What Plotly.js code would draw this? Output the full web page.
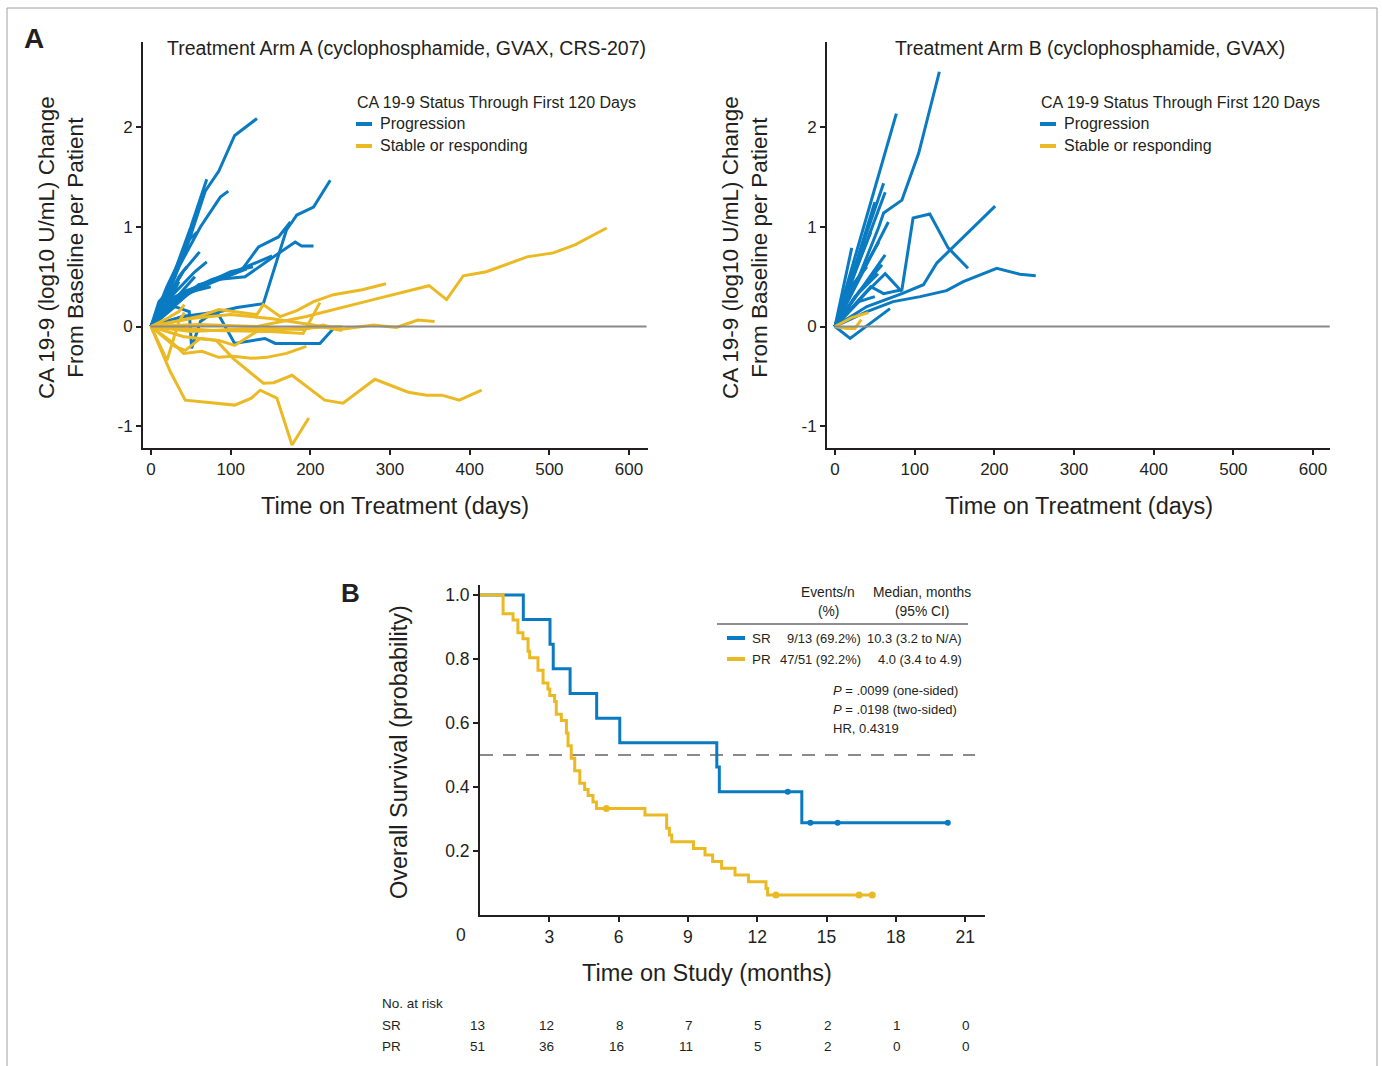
<!DOCTYPE html>
<html><head><meta charset="utf-8">
<script src="https://cdn.plot.ly/plotly-3.0.1.min.js"></script>
<style>html,body{margin:0;padding:0;background:#fff}#chart{width:1382px;height:1066px}</style>
</head><body><div id="chart"></div>
<script>
// ---------------- DATA ----------------
// Panel A, Arm A: progression (blue) patients: days and log10 change
const armA_prog_days = [
  [0,20,45,68,85,105,133],
  [0,25,50,70],
  [0,35,62,87,97],
  [0,40,87,108,141,170,177,183,204,225],
  [0,40,84,105,143,156,212,229],
  [0,30,76,114,135,160,175],
  [0,35,80,118,152,181,189,204],
  [0,40,90,125,152],
  [0,40,61],
  [0,30,42],
  [0,25,40],
  [0,20,35],
  [0,15,28],
  [0,45,55],
  [0,30,48,51,62,80],
  [0,20,38,52],
  [0,35,60,75],
  [0,25,55,70],
  [0,30,60,100,128],
  [0,40,70,100,120],
  [0,20,50,75],
  [0,15,35,45],
  [0,25,45,58],
  [0,10,22]
];
const armA_prog_vals = [
  [0,0.30,0.80,1.36,1.56,1.92,2.09],
  [0,0.45,1.00,1.48],
  [0,0.60,1.00,1.30,1.36],
  [0,0.10,0.15,0.19,0.23,0.97,1.05,1.12,1.20,1.47],
  [0,0.10,0.13,-0.17,-0.12,-0.17,-0.17,-0.02],
  [0,0.30,0.47,0.57,0.80,0.90,1.05],
  [0,0.30,0.47,0.50,0.69,0.85,0.81,0.81],
  [0,0.30,0.50,0.62,0.71],
  [0,0.55,0.75],
  [0,0.50,0.80],
  [0,0.35,0.55],
  [0,0.20,0.45],
  [0,0.25,0.35],
  [0,0.40,0.50],
  [0,0.20,0.15,-0.22,0.05,0.15],
  [0,0.40,0.70,1.00],
  [0,0.25,0.42,0.45],
  [0,0.30,0.55,0.65],
  [0,0.25,0.40,0.55,0.60],
  [0,0.35,0.42,0.52,0.58],
  [0,0.15,0.35,0.40],
  [0,0.20,0.50,0.60],
  [0,0.45,0.85,0.95],
  [0,0.25,0.35]
];
// Arm A: stable or responding (yellow)
const armA_stab_days = [
  [0,60,133,195,279,349,371,392,421,446,472,505,532,572],
  [0,60,85,133,141,162,183,204,229,265,295],
  [0,50,100,150,191,216,237,279,308,335,356],
  [0,80,150,191,212],
  [0,25,41,64,85,103,126,145,170,195],
  [0,24,43,76,105,126,137,158,177,198],
  [0,40,82,103,141,154,177,218,241,281,323,346,365,387,415],
  [0,30,43,62,85,105,133,180,240],
  [0,20,35,42],
  [0,20,35,42],
  [0,50,100,150,200,240]
];
const armA_stab_vals = [
  [0,0.02,0.00,0.10,0.27,0.41,0.27,0.51,0.55,0.62,0.70,0.74,0.82,0.99],
  [0,0.10,0.17,0.12,0.22,0.10,0.16,0.25,0.32,0.37,0.43],
  [0,-0.05,-0.03,-0.02,-0.03,0.015,-0.03,0.015,-0.01,0.065,0.05],
  [0,-0.04,-0.05,-0.07,0.24],
  [0,-0.15,-0.27,-0.25,-0.31,-0.30,-0.32,-0.31,-0.27,-0.20],
  [0,-0.45,-0.74,-0.77,-0.79,-0.72,-0.64,-0.72,-1.19,-0.92],
  [0,-0.10,-0.14,-0.32,-0.57,-0.565,-0.49,-0.74,-0.77,-0.53,-0.66,-0.69,-0.69,-0.74,-0.64],
  [0,-0.20,-0.24,-0.12,-0.14,-0.19,-0.05,-0.02,0.00],
  [0,0.08,0.15,0.22],
  [0,-0.34,0.05,0.14],
  [0,0.08,0.12,0.08,0.02,-0.04]
];
// Arm B: progression (blue)
const armB_prog_days = [
  [0,30,55,61,84,105,131],
  [0,40,77],
  [0,45,61,84,98,119,142,167],
  [0,40,84,111,128,201],
  [0,40,73,107,140,161,203,232,252],
  [0,19,69],
  [0,21],
  [0,30,61],
  [0,35,63],
  [0,35,67],
  [0,40,63],
  [0,30,59],
  [0,25,54],
  [0,20,40],
  [0,15,30],
  [0,40,63,84],
  [0,30,50],
  [0,25,50],
  [0,20,45],
  [0,30,55]
];
const armB_prog_vals = [
  [0,0.50,1.00,1.14,1.27,1.74,2.56],
  [0,1.10,2.14],
  [0,0.40,0.33,0.37,1.09,1.13,0.79,0.585],
  [0,0.20,0.33,0.42,0.64,1.21],
  [0,0.15,0.25,0.30,0.36,0.45,0.585,0.525,0.51],
  [0,-0.12,0.18],
  [0,0.79],
  [0,0.70,1.44],
  [0,0.75,1.35],
  [0,0.55,1.05],
  [0,0.45,0.72],
  [0,0.35,0.62],
  [0,0.30,0.53],
  [0,0.40,0.60],
  [0,0.30,0.50],
  [0,0.35,0.53,0.35],
  [0,0.25,0.30],
  [0,0.60,1.25],
  [0,0.45,0.95],
  [0,0.50,0.85]
];
// Arm B: stable or responding (yellow)
const armB_stab_days = [[0,21,42],[0,15,25,33]];
const armB_stab_vals = [[0,0.09,0.14],[0,-0.02,-0.02,0.07]];
const xTicksA = [0,100,200,300,400,500,600];
const yTicksA = [-1,0,1,2];
const yTickTextA = ['-1','0','1','2'];

// Panel B: Kaplan-Meier step curves (months, survival)
const sr_time = [0,1.875,3.03,3.17,3.9,5.05,6.05,10.25,10.36,13.93,20.25];
const sr_surv = [1,0.923,0.846,0.769,0.692,0.615,0.538,0.462,0.385,0.288,0.288];
const sr_cens_time = [13.32,14.3,15.48,20.25];
const sr_cens_surv = [0.385,0.288,0.288,0.288];
const pr_time = [0,1.0,1.43,1.64,1.86,2.08,2.15,2.51,2.73,2.94,3.02,3.23,3.30,3.52,3.74,3.81,3.95,4.10,4.32,4.53,4.68,4.89,5.04,7.14,8.08,8.20,8.30,9.24,9.74,10.07,10.46,11.04,11.62,12.38,12.45,16.98];
const pr_surv = [1,0.941,0.922,0.882,0.863,0.824,0.804,0.765,0.725,0.706,0.686,0.667,0.627,0.608,0.569,0.529,0.490,0.451,0.412,0.392,0.373,0.353,0.333,0.3125,0.271,0.25,0.229,0.208,0.1875,0.167,0.146,0.125,0.104,0.083,0.0625,0.0625];
const pr_cens_time = [5.47,12.81,16.41,16.98];
const pr_cens_surv = [0.333,0.0625,0.0625,0.0625];
const xTicksKM = [3,6,9,12,15,18,21];
const yTicksKM = [0.2,0.4,0.6,0.8,1.0];
const yTickTextKM = ['0.2','0.4','0.6','0.8','1.0'];
const riskTimes = [0,3,6,9,12,15,18,21];
const riskSR = [13,12,8,7,5,2,1,0];
const riskPR = [51,36,16,11,5,2,0,0];

// ---------------- STYLE ----------------
const BLUE = '#0a7bc2', YEL = '#ebb923', INK = '#231f20', GRAY = '#8a8a8a';
const FONT = 'Liberation Sans, Arial, Helvetica, sans-serif';
const W = 1382, H = 1066;
const px = x => x / W, py = y => 1 - y / H;

function lineTraces(daysArr, valsArr, color, xa, ya, w) {
  return daysArr.map((d, i) => ({
    type: 'scatter', mode: 'lines', x: d, y: valsArr[i], xaxis: xa, yaxis: ya,
    line: { color: color, width: w || 3, shape: 'linear' }, hoverinfo: 'skip', showlegend: false
  }));
}

const traces = [];
traces.push(...lineTraces(armA_prog_days, armA_prog_vals, BLUE, 'x', 'y'));
traces.push(...lineTraces(armA_stab_days, armA_stab_vals, YEL, 'x', 'y'));
traces.push({type:'scatter',mode:'lines',x:[0,622],y:[0,0],xaxis:'x',yaxis:'y',line:{color:GRAY,width:2},hoverinfo:'skip',showlegend:false});
traces.push(...lineTraces(armB_prog_days, armB_prog_vals, BLUE, 'x2', 'y2'));
traces.push(...lineTraces(armB_stab_days, armB_stab_vals, YEL, 'x2', 'y2'));
traces.push({type:'scatter',mode:'lines',x:[0,621],y:[0,0],xaxis:'x2',yaxis:'y2',line:{color:GRAY,width:2},hoverinfo:'skip',showlegend:false});

// KM
traces.push({type:'scatter',mode:'lines',x:[0,21.43],y:[0.5,0.5],xaxis:'x3',yaxis:'y3',line:{color:GRAY,width:2,dash:'13px,10px'},hoverinfo:'skip',showlegend:false});
traces.push({type:'scatter',mode:'lines',x:sr_time,y:sr_surv,xaxis:'x3',yaxis:'y3',line:{color:BLUE,width:3,shape:'hv'},hoverinfo:'skip',showlegend:false});
traces.push({type:'scatter',mode:'markers',x:sr_cens_time,y:sr_cens_surv,xaxis:'x3',yaxis:'y3',marker:{color:BLUE,size:6},hoverinfo:'skip',showlegend:false});
traces.push({type:'scatter',mode:'lines',x:pr_time,y:pr_surv,xaxis:'x3',yaxis:'y3',line:{color:YEL,width:3,shape:'hv'},hoverinfo:'skip',showlegend:false});
traces.push({type:'scatter',mode:'markers',x:pr_cens_time,y:pr_cens_surv,xaxis:'x3',yaxis:'y3',marker:{color:YEL,size:7},hoverinfo:'skip',showlegend:false});

const axBase = {showgrid:false, zeroline:false, showline:true, linecolor:INK, linewidth:2,
  ticks:'outside', ticklen:5, tickwidth:2, tickcolor:INK,
  tickfont:{family:FONT,size:17,color:INK}, fixedrange:true};

const ann = [];
function txt(text, x, y, size, opts) {
  ann.push(Object.assign({text:text, x:px(x), y:py(y), xref:'paper', yref:'paper', showarrow:false,
    xanchor:'center', yanchor:'middle', font:{family:FONT,size:size,color:INK}}, opts || {}));
}
txt('<b>A</b>', 34, 38, 28);
txt('<b>B</b>', 350, 593, 26);
txt('Treatment Arm A (cyclophosphamide, GVAX, CRS-207)', 406, 48, 19.5);
txt('Treatment Arm B (cyclophosphamide, GVAX)', 1090, 48, 19.5);
txt('CA 19-9 (log10 U/mL) Change<br>From Baseline per Patient', 61, 248, 22.5, {textangle:-90});
txt('CA 19-9 (log10 U/mL) Change<br>From Baseline per Patient', 745, 248, 22.5, {textangle:-90});
txt('Time on Treatment (days)', 395, 506, 23.5);
txt('Time on Treatment (days)', 1079, 506, 23.5);
// legends panel A
[355, 1039].forEach(lx => {
  txt('CA 19-9 Status Through First 120 Days', lx, 103, 16, {xanchor:'left'});
  txt('Progression', lx+23, 124, 16, {xanchor:'left'});
  txt('Stable or responding', lx+23, 146, 16, {xanchor:'left'});
});
// KM texts
txt('Overall Survival (probability)', 399, 752, 23.5, {textangle:-90});
txt('Time on Study (months)', 707, 973, 23.5);
txt('0', 461, 935, 17.5);
txt('Events/n', 828, 592, 13.8);
txt('(%)', 828, 611, 13.8);
txt('Median, months', 922, 592, 13.8);
txt('(95% CI)', 922, 611, 13.8);
txt('SR', 750, 638, 13.5, {xanchor:'left'});
txt('PR', 750, 659, 13.5, {xanchor:'left'});
txt('9/13 (69.2%)', 863, 638, 12.9, {xanchor:'right'});
txt('47/51 (92.2%)', 863, 659, 12.9, {xanchor:'right'});
txt('10.3 (3.2 to N/A)', 964, 638, 12.9, {xanchor:'right'});
txt('4.0 (3.4 to 4.9)', 964, 659, 12.9, {xanchor:'right'});
txt('<i>P</i> = .0099 (one-sided)', 831, 690, 13, {xanchor:'left'});
txt('<i>P</i> = .0198 (two-sided)', 831, 709, 13, {xanchor:'left'});
txt('HR, 0.4319', 831, 728, 13, {xanchor:'left'});
// risk table
txt('No. at risk', 380, 1003, 13.5, {xanchor:'left'});
txt('SR', 380, 1025, 13.5, {xanchor:'left'});
txt('PR', 380, 1046, 13.5, {xanchor:'left'});
riskTimes.forEach((t, i) => {
  ann.push({text:String(riskSR[i]), x:t, xref:'x3', y:py(1025), yref:'paper', showarrow:false, xanchor:'right', xshift:7, yanchor:'middle', font:{family:FONT,size:13.5,color:INK}});
  ann.push({text:String(riskPR[i]), x:t, xref:'x3', y:py(1046), yref:'paper', showarrow:false, xanchor:'right', xshift:7, yanchor:'middle', font:{family:FONT,size:13.5,color:INK}});
});

const shapes = [];
function seg(x0,y0,x1,y1,color,w){ shapes.push({type:'line',xref:'paper',yref:'paper',x0:px(x0),y0:py(y0),x1:px(x1),y1:py(y1),line:{color:color,width:w}}); }
// legend swatches
seg(356,124,372,124,BLUE,4); seg(356,146,372,146,YEL,4);
seg(1040,124,1056,124,BLUE,4); seg(1040,146,1056,146,YEL,4);
seg(727,638,745,638,BLUE,4); seg(727,659,745,659,YEL,4);
seg(717,624,968,624,INK,1.2);
// outer frame
shapes.push({type:'rect',xref:'paper',yref:'paper',x0:px(7),y0:py(1075),x1:px(1377),y1:py(8),line:{color:'#a0a0a0',width:1}});

const layout = {
  width:W, height:H, margin:{l:0,r:0,t:0,b:0}, paper_bgcolor:'#fff', plot_bgcolor:'rgba(0,0,0,0)',
  showlegend:false, font:{family:FONT,color:INK},
  xaxis: Object.assign({}, axBase, {domain:[px(143),px(648)], range:[-10.04,623.8], tickvals:xTicksA, anchor:'y'}),
  yaxis: Object.assign({}, axBase, {domain:[py(448),py(42)], range:[-1.221,2.859], tickvals:yTicksA, ticktext:yTickTextA, anchor:'x'}),
  xaxis2: Object.assign({}, axBase, {domain:[px(827),px(1330)], range:[-10.04,621.3], tickvals:xTicksA, anchor:'y2'}),
  yaxis2: Object.assign({}, axBase, {domain:[py(448),py(42)], range:[-1.221,2.859], tickvals:yTicksA, ticktext:yTickTextA, anchor:'x2'}),
  xaxis3: Object.assign({}, axBase, {domain:[px(480),px(985)], range:[0,21.86], tickvals:xTicksKM, anchor:'y3', tickfont:{family:FONT,size:17.5,color:INK}}),
  yaxis3: Object.assign({}, axBase, {domain:[py(915),py(585)], range:[0,1.031], tickvals:yTicksKM, ticktext:yTickTextKM, anchor:'x3', tickfont:{family:FONT,size:17.5,color:INK}}),
  annotations: ann, shapes: shapes
};
Plotly.newPlot('chart', traces, layout, {displayModeBar:false, staticPlot:true});
</script></body></html>
